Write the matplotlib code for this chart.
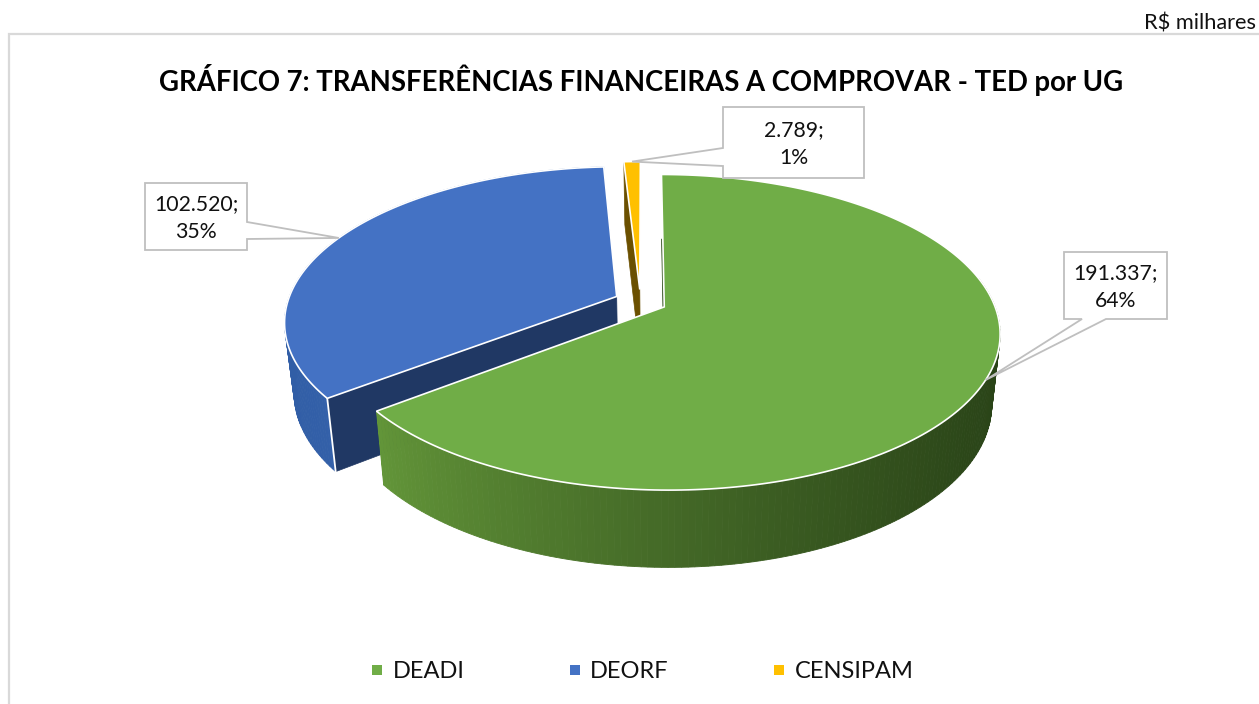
import numpy as np
import matplotlib
matplotlib.use("Agg")
import matplotlib.pyplot as plt
from matplotlib.colors import to_rgb
from matplotlib.lines import Line2D
from matplotlib.patches import Polygon, Rectangle

# ---- data
categories = ["DEADI", "DEORF", "CENSIPAM"]
values = [191337, 102520, 2789]
value_labels = ["191.337", "102.520", "2.789"]
percent_labels = ["64%", "35%", "1%"]
title = "GRÁFICO 7: TRANSFERÊNCIAS FINANCEIRAS A COMPROVAR - TED por UG"
unit_note = "R$ milhares"

# ---- styles
top_colors = ["#70ad47", "#4472c4", "#ffc000"]
cut_colors = ["#2c4a19", "#203864", "#6b5000"]
side_left = ["#639639", "#315ea6", "#7f6000"]
side_right = ["#2a4418", "#3b68b4", "#7f6000"]
FONT = "Lato"
plt.rcParams["font.family"] = [FONT, "DejaVu Sans"]

# ---- projection of the pie plane to the picture (perspective)
CX, CY = 640.5, 301.5
A, B, K = 329.0, 152.0, 0.16
EXPLODE = 0.08
ROT = 0.1
SX, SY, DEPTH = 0.975, 1.044, 69.0


def top_pt(X, Y):
    d = 1 + K * Y
    return CX + A * X / d, CY - B * Y / d


def bottom_pt(X, Y):
    x, y = top_pt(X, Y)
    return CX + 24 + (x - CX - 24) * SX, CY + (y - CY) * SY + DEPTH


fig = plt.figure(figsize=(12.59, 7.04), dpi=100)
ax = fig.add_axes([0, 0, 1, 1])
ax.set_xlim(0, 1259)
ax.set_ylim(704, 0)
ax.axis("off")

# chart frame
ax.add_patch(Rectangle((9.5, 34), 1300, 700, fc="white", ec="#d9d9d9", lw=1.6, zorder=0))

total = sum(values)
edges = np.concatenate([[0], np.cumsum(values)]) / total * 360 + ROT
mids = (edges[:-1] + edges[1:]) / 2
offs = [(EXPLODE * np.sin(np.radians(m)), EXPLODE * np.cos(np.radians(m))) for m in mids]


def rim(i, deg):
    r = np.radians(deg)
    return offs[i][0] + np.sin(r), offs[i][1] + np.cos(r)


def draw_slice(i, z):
    a0, a1 = edges[i], edges[i + 1]
    angs = np.arange(a0, a1, 1.0)
    angs = np.append(angs, a1)
    ox, oy = offs[i]
    # outer wall, shaded along its width
    c0, c1 = np.array(to_rgb(side_left[i])), np.array(to_rgb(side_right[i]))
    xs_all = [top_pt(*rim(i, a))[0] for a in angs]
    lo, hi = min(xs_all), max(xs_all)
    for a, b in zip(angs[:-1], angs[1:]):
        pa, pb = rim(i, a), rim(i, b)
        if pa[1] > 0.15 and pb[1] > 0.15 and i != 1:
            continue
        quad = [top_pt(*pa), top_pt(*pb), bottom_pt(*pb), bottom_pt(*pa)]
        t = (0.5 * (quad[0][0] + quad[1][0]) - lo) / max(hi - lo, 1)
        col = c0 + (c1 - c0) * np.clip(t, 0, 1) ** 0.8
        ax.add_patch(Polygon(quad, closed=True, fc=col, ec=col, lw=0.6, zorder=z))
    # visible cut face at the start of the slice
    p = rim(i, a0)
    cut = [top_pt(ox, oy), top_pt(*p), bottom_pt(*p), bottom_pt(ox, oy)]
    ax.add_patch(Polygon(cut, closed=True, fc=cut_colors[i], ec=cut_colors[i], lw=0.5, zorder=z + 0.1))
    # corner highlight between wall and cut face
    if i < 2:
        ax.add_line(Line2D(*zip(top_pt(*p), bottom_pt(*p)), color="white", lw=1.3, zorder=z + 0.2))
    # top face
    outline = [top_pt(ox, oy)] + [top_pt(*rim(i, a)) for a in angs]
    ax.add_patch(Polygon(outline, closed=True, fc=top_colors[i], ec="white", lw=1.2,
                         joinstyle="miter", zorder=z + 0.3))


draw_slice(2, 2)
draw_slice(1, 3)
draw_slice(0, 4)

# ---- title and note
ax.text(641, 80, title, ha="center", va="center", fontsize=19.8, fontweight="bold", color="black", zorder=8)
ax.text(1256, 23, unit_note, ha="right", va="center", fontsize=15.7, color="#111111", zorder=8)

# ---- callouts
boxes = [(1064, 252, 1167, 319), (145, 183, 247, 250), (723, 107, 864, 178)]
roots = [((1082, 319), (1106, 319)), ((247, 222), (247, 239)), ((723, 148), (723, 166))]
for i, (box, root) in enumerate(zip(boxes, roots)):
    x0, y0, x1, y1 = box
    rx, ry = top_pt(*rim(i, mids[i]))
    if i == 0:
        pts = [(x0, y0), (x1, y0), (x1, y1), root[1], (rx, ry), root[0], (x0, y1)]
    elif i == 1:
        pts = [(x0, y0), (x1, y0), root[0], (rx, ry), root[1], (x1, y1), (x0, y1)]
    else:
        pts = [(x0, y0), (x1, y0), (x1, y1), (x0, y1), root[1], (rx, ry), root[0]]
    ax.add_patch(Polygon(pts, closed=True, fc="white", ec="#bfbfbf", lw=1.3, zorder=6))
    ax.text((x0 + x1) / 2, (y0 + y1) / 2 + 1.5, f"{value_labels[i]};\n{percent_labels[i]}",
            ha="center", va="center", fontsize=15.3, linespacing=1.52, color="#111111", zorder=7)

# ---- legend
handles = [Line2D([], [], ls="none", marker="s", ms=7, mfc=c, mec=c, mew=0) for c in top_colors]
leg = ax.legend(handles, categories, ncol=3, frameon=False, fontsize=17, loc="center",
                bbox_to_anchor=(642, 672), bbox_transform=ax.transData,
                handlelength=0.55, handletextpad=0.38, columnspacing=4.39, borderpad=0)
for t in leg.get_texts():
    t.set_color("#111111")

fig.savefig("out.png", dpi=100)
